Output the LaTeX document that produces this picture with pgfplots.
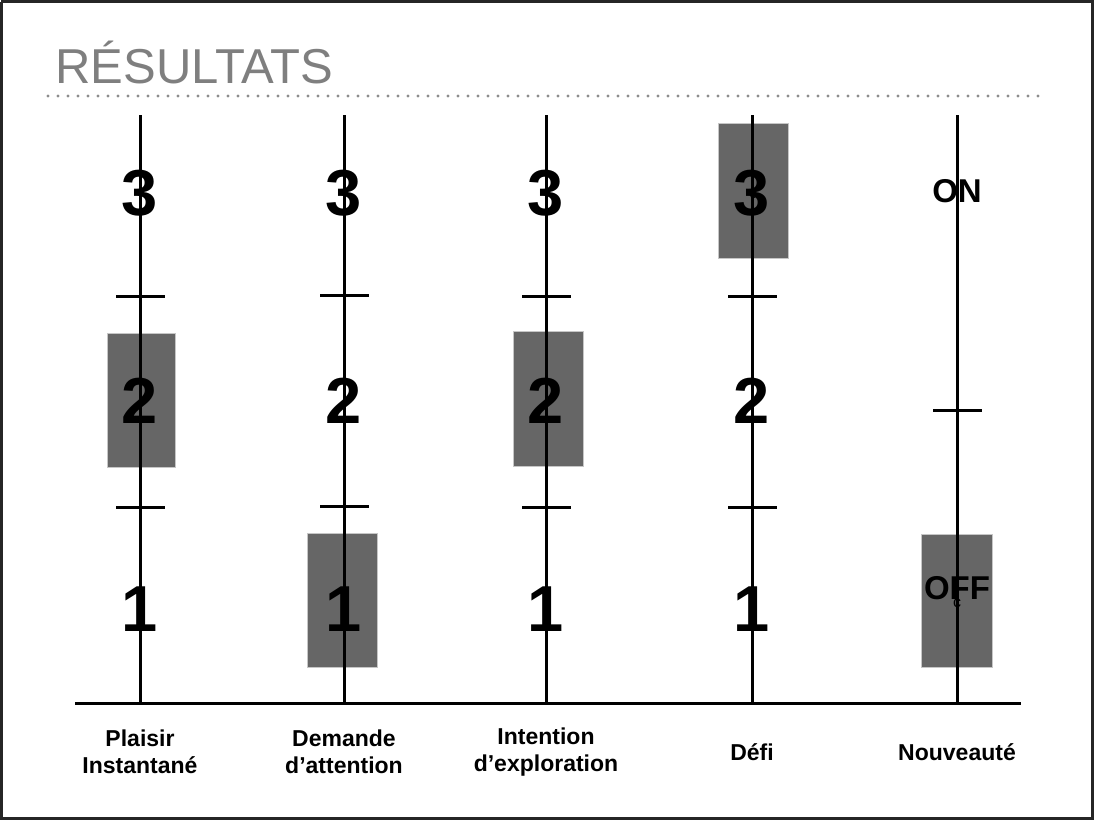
\documentclass[border=0pt]{standalone}
\usepackage{pgfplots}
\pgfplotsset{compat=1.18}
\usepackage{fontspec}
\setmainfont{Liberation Sans}
\definecolor{boxgray}{HTML}{666666}
\definecolor{titlegray}{HTML}{7F7F7F}
\definecolor{dotgray}{HTML}{8C8C8C}
\tikzset{
  big/.style={font=\bfseries\fontsize{32.5}{34}\selectfont, inner sep=0pt},
  cat/.style={align=center, font=\bfseries\fontsize{11.5}{13.5}\selectfont, inner sep=0pt},
}
\begin{document}
\begin{tikzpicture}
\begin{axis}[
  scale only axis, width=547pt, height=410pt,
  xmin=0, xmax=1094, ymin=0, ymax=820, y dir=reverse,
  hide axis, clip=false,
]
% frame
\addplot[black!85, line width=1.5pt] coordinates {(1.5,1.5) (1092.5,1.5) (1092.5,818.5) (1.5,818.5) (1.5,1.5)};
% dotted rule under title
\addplot[dotgray, line width=1.6pt, line cap=round, dash pattern=on 0pt off 5pt] coordinates {(48,96) (1040,96)};
% boxes (selected level)
\addplot[fill=boxgray, draw=gray!45, line width=0.4pt] coordinates {(107,333) (175,333) (175,467) (107,467)} -- cycle;
\addplot[fill=boxgray, draw=gray!45, line width=0.4pt] coordinates {(307,533) (377,533) (377,667) (307,667)} -- cycle;
\addplot[fill=boxgray, draw=gray!45, line width=0.4pt] coordinates {(513,331) (583,331) (583,466) (513,466)} -- cycle;
\addplot[fill=boxgray, draw=gray!45, line width=0.4pt] coordinates {(718,123) (788,123) (788,258) (718,258)} -- cycle;
\addplot[fill=boxgray, draw=gray!45, line width=0.4pt] coordinates {(921,534) (992,534) (992,667) (921,667)} -- cycle;
% level labels
\node[big] at (axis cs:140,193) {3};
\node[big] at (axis cs:140,401) {2};
\node[big] at (axis cs:140,609) {1};
\node[big] at (axis cs:344,193) {3};
\node[big] at (axis cs:344,401) {2};
\node[big] at (axis cs:344,609) {1};
\node[big] at (axis cs:546,193) {3};
\node[big] at (axis cs:546,401) {2};
\node[big] at (axis cs:546,609) {1};
\node[big] at (axis cs:752,193) {3};
\node[big] at (axis cs:752,401) {2};
\node[big] at (axis cs:752,609) {1};
\node[font=\fontsize{7}{8}\selectfont, inner sep=0pt] at (axis cs:753,195) {c};
\node[font=\bfseries\fontsize{16.5}{18}\selectfont, inner sep=0pt] at (axis cs:957,191) {ON};
\node[font=\bfseries\fontsize{16.5}{18}\selectfont, inner sep=0pt] at (axis cs:957,588) {OFF};
\node[font=\fontsize{8}{9}\selectfont, inner sep=0pt] at (axis cs:957,603) {c};
% vertical scales
\addplot[black, line width=1.5pt] coordinates {(140,115) (140,703)};
\addplot[black, line width=1.5pt] coordinates {(344,115) (344,703)};
\addplot[black, line width=1.5pt] coordinates {(546,115) (546,703)};
\addplot[black, line width=1.5pt] coordinates {(752,115) (752,703)};
\addplot[black, line width=1.5pt] coordinates {(957,115) (957,703)};
% ticks between levels
\addplot[black, line width=1.5pt] coordinates {(116,296) (165,296)};
\addplot[black, line width=1.5pt] coordinates {(116,507) (165,507)};
\addplot[black, line width=1.5pt] coordinates {(320,295) (369,295)};
\addplot[black, line width=1.5pt] coordinates {(320,506) (369,506)};
\addplot[black, line width=1.5pt] coordinates {(522,296) (571,296)};
\addplot[black, line width=1.5pt] coordinates {(522,507) (571,507)};
\addplot[black, line width=1.5pt] coordinates {(728,296) (777,296)};
\addplot[black, line width=1.5pt] coordinates {(728,507) (777,507)};
\addplot[black, line width=1.5pt] coordinates {(933,410) (982,410)};
% baseline
\addplot[black, line width=1.5pt] coordinates {(75,703) (1021,703)};
% title
\node[anchor=base west, text=titlegray, font=\fontsize{24.5}{26}\selectfont, inner sep=0pt] at (axis cs:55,83) {RÉSULTATS};
% category labels
\node[cat] at (axis cs:140,752) {Plaisir\\Instantané};
\node[cat] at (axis cs:344,752) {Demande\\d’attention};
\node[cat] at (axis cs:546,752) {Intention\\d’exploration};
\node[cat] at (axis cs:752,752) {Défi};
\node[cat] at (axis cs:957,752) {Nouveauté};
\end{axis}
\end{tikzpicture}
\end{document}
